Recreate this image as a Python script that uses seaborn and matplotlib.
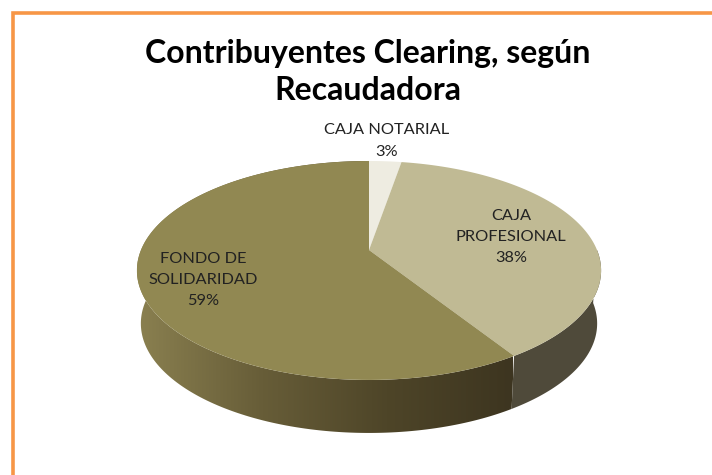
import numpy as np
import matplotlib
matplotlib.use('Agg')
import matplotlib.pyplot as plt
from matplotlib.colors import LinearSegmentedColormap
from matplotlib.patches import Polygon
import seaborn as sns

labels = ['CAJA NOTARIAL', 'CAJA\nPROFESIONAL', 'FONDO DE\nSOLIDARIDAD']
values = [2.7, 38.3, 59.0]
colors = ['#eeece1', '#c0ba94', '#918852']
title = 'Contribuyentes Clearing, según\nRecaudadora'

sns.set_theme(style='white')
plt.rcParams['font.family'] = ['Lato', 'DejaVu Sans']

fig, ax = plt.subplots(figsize=(7.12, 4.75), dpi=100)
ax.set_position([0, 0, 1, 1])
ax.set_xlim(0, 712)
ax.set_ylim(475, 0)
ax.axis('off')

# pie disc seen in perspective, angle 0 is at the top and runs clockwise
def project(deg, r=1.0, drop=0.0, shrink=1.0):
    a = np.radians(deg)
    u = r * np.sin(a)
    v = r * np.cos(a)
    d = 1 + 0.187 * v
    return 369 + shrink * 228 * u / d, (250 - 58.9 * v) / d + drop

edges = np.cumsum([0] + values) * 3.6
drop = 53
shrink = 0.983

# side wall, shaded from left to right
front = np.linspace(edges[2], 360, 200)
tx, ty = project(front)
bx, by = project(front, drop=drop, shrink=shrink)
wall = Polygon(np.r_[np.c_[tx, ty], np.c_[bx, by][::-1]], transform=ax.transData, fc='none', ec='none')
ax.add_patch(wall)
shade = LinearSegmentedColormap.from_list('wall', ['#8a8050', '#675d38', '#4e4528', '#3d3520'])
img = ax.imshow(np.linspace(0, 1, 256)[None, :], cmap=shade, extent=(137, 513, 440, 150), aspect='auto', zorder=1)
img.set_clip_path(wall)
ax.set_xlim(0, 712)
ax.set_ylim(475, 0)

side = np.linspace(90, edges[2], 100)
tx, ty = project(side)
bx, by = project(side, drop=drop, shrink=shrink)
ax.fill(np.r_[tx, bx[::-1]], np.r_[ty, by[::-1]], color='#4f4a3a', lw=0, zorder=1)

# top of the pie
for i, c in enumerate(colors):
    t = np.linspace(edges[i], edges[i + 1], 120)
    x, y = project(t)
    cx, cy = project(0, r=0)
    ax.fill(np.r_[cx, x], np.r_[cy, y], color=c, lw=0, zorder=2)

label_pos = [(387, 141), (511, 237), (203, 280)]
for lab, val, pos in zip(labels, values, label_pos):
    ax.text(pos[0], pos[1], f'{lab}\n{val:.0f}%', ha='center', va='center', fontsize=11.8,
            color='#222222', linespacing=1.65, zorder=3)

ax.text(368, 72, title, ha='center', va='center', fontsize=23, fontweight='bold',
        color='black', linespacing=1.36)

# orange frame, only left and top
ax.plot([12.5, 12.5, 712], [475, 13, 13], color='#f79646', lw=2.6, solid_joinstyle='miter', zorder=4)

fig.savefig('out.png', dpi=100)
